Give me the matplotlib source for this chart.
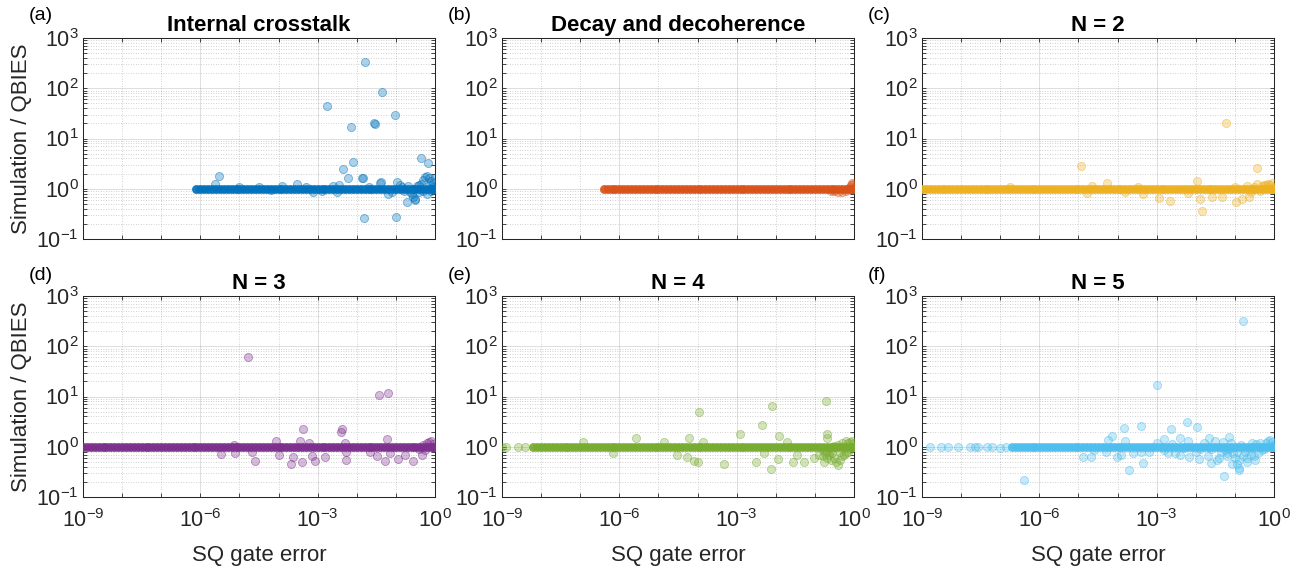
import numpy as np
import matplotlib
matplotlib.use("Agg")
import matplotlib.pyplot as plt
from matplotlib.ticker import FixedLocator, LogLocator, NullFormatter, LogFormatterSciNotation

plt.rcParams['font.family'] = ['Liberation Sans', 'DejaVu Sans']
plt.rcParams['mathtext.default'] = 'regular'

W, H = 1301, 569

titles = ['Internal crosstalk', 'Decay and decoherence', 'N = 2', 'N = 3', 'N = 4', 'N = 5']
tags = ['(a)', '(b)', '(c)', '(d)', '(e)', '(f)']
colors = [(0.000, 0.447, 0.741), (0.850, 0.325, 0.098), (0.929, 0.694, 0.125),
          (0.494, 0.184, 0.556), (0.466, 0.674, 0.188), (0.301, 0.745, 0.933)]

x_ticks = [1e-9, 1e-6, 1e-3, 1e0]
x_minor = [1e-8, 1e-7, 1e-5, 1e-4, 1e-2, 1e-1]

# log10(SQ gate error) positions of the dense run of points sitting at ratio ~1
band_grid = [-9.0, -8.9, -8.8, -8.7, -8.6, -8.5, -8.4, -8.3, -8.2, -8.1,
             -8.0, -7.9, -7.8, -7.7, -7.6, -7.5, -7.4, -7.3, -7.2, -7.1,
             -7.0, -6.9, -6.8, -6.7, -6.6, -6.5, -6.4, -6.3, -6.2, -6.1,
             -6.0, -5.9, -5.8, -5.7, -5.6, -5.5, -5.4, -5.3, -5.2, -5.1,
             -5.0, -4.9, -4.8, -4.7, -4.6, -4.5, -4.4, -4.3, -4.2, -4.1,
             -4.0, -3.9, -3.8, -3.7, -3.6, -3.5, -3.4, -3.3, -3.2, -3.1,
             -3.0, -2.9, -2.8, -2.7, -2.6, -2.5, -2.4, -2.3, -2.2, -2.1,
             -2.0, -1.9, -1.8, -1.7, -1.6, -1.5, -1.4, -1.3, -1.2, -1.1,
             -1.0, -0.9, -0.8, -0.7, -0.6, -0.5, -0.4, -0.3, -0.2, -0.1,
             -0.05, 0.0]
band_start = [-6.1, -6.4, -9.0, -9.0, -8.2, -6.75]
band_level = [1.0, 1.0, 1.0, 1.0, 1.0, 1.0]

# (a) internal crosstalk: log10(error), ratio
sa_x = [-1.80, -1.36, -2.77, -1.02, -1.57, -1.54, -2.15, -2.09, -2.34, -2.23,
        -1.86, -1.84, -1.82, -0.99, -0.36, -0.18, -5.52, -5.63, -1.38, -0.96,
        -2.45, -0.72, -0.51, -0.40, -1.19, -3.53, -3.92, -3.11, -2.51, -5.0,
        -4.5, -4.2, -3.3, -2.9, -2.6, -1.7, -1.4, -1.1, -0.85,
        -0.30, -0.25, -0.20, -0.15, -0.10, -0.05, 0.00, -0.12, -0.35, -0.45,
        -0.60, -0.55, -0.65, -0.50, -0.40, -0.30, -0.20, -0.10, -0.05, -0.80,
        -0.70, -0.90]
sa_y = [333, 83, 44, 29, 20, 19.5, 17, 3.35, 2.5, 1.65,
        1.65, 1.6, 0.265, 0.27, 4.1, 3.2, 1.8, 1.26, 1.38, 1.38,
        1.2, 0.55, 0.6, 1.18, 0.77, 1.22, 1.15, 0.87, 0.87, 1.1,
        1.08, 0.93, 1.1, 0.9, 1.12, 1.1, 1.3, 0.85, 1.1,
        1.5, 1.7, 1.8, 1.6, 1.45, 1.3, 1.6, 1.2, 1.25, 1.15,
        0.8, 0.7, 0.85, 0.62, 0.85, 0.9, 0.8, 0.9, 1.1, 0.9,
        1.15, 1.2]

# (b) decay and decoherence
sb_x = [-0.6, -0.5, -0.4, -0.3, -0.2, -0.15, -0.1, -0.07, -0.04, -0.02, 0.0, -0.05]
sb_y = [0.92, 0.9, 0.88, 0.86, 0.9, 0.98, 1.1, 1.2, 1.28, 1.22, 1.1, 1.0]

# (c) N = 2
sc_x = [-1.23, -4.94, -0.44, -1.97, -4.26, -1.85, -2.67, -2.93, -1.90, -1.59,
        -0.98, -0.81, -0.64, -1.32, -3.34, -4.79, -3.47, -4.66, -6.75, -2.19,
        -0.25, -0.43, -3.80, -0.30, -0.20, -0.15, -0.10, -0.05, 0.0, -0.50,
        -0.70, -1.00, -0.35, -0.60]
sc_y = [20, 2.87, 2.54, 1.44, 1.28, 0.355, 0.58, 0.65, 0.63, 0.67,
        0.54, 0.62, 0.67, 0.67, 0.77, 0.83, 1.1, 1.13, 1.07, 0.83,
        1.18, 1.22, 0.87, 1.15, 1.2, 1.25, 1.2, 1.3, 1.1, 1.1,
        1.15, 1.1, 0.9, 0.85]

# (d) N = 3
sd_x = [-4.77, -1.43, -1.19, -3.37, -2.37, -2.40, -1.23, -4.07, -3.45, -5.13,
        -3.21, -2.29, -4.60, -3.68, -3.41, -3.07, -2.81, -2.28, -1.29, -0.95,
        -0.57, -5.46, -5.12, -4.00, -3.62, -3.14, -1.49, -1.14, -0.76, -0.33,
        -4.69, -2.27, -1.66, -0.15, -0.10, -0.20, -0.05, -0.30, -0.40, -0.25]
sd_y = [62, 10.9, 11.9, 2.26, 2.26, 1.94, 1.43, 1.30, 1.30, 1.08,
        1.17, 1.17, 0.53, 0.45, 0.50, 0.53, 0.63, 0.54, 0.53, 0.56,
        0.53, 0.72, 0.74, 0.68, 0.63, 0.65, 0.66, 0.74, 0.68, 0.68,
        0.8, 0.8, 0.8, 1.26, 1.3, 1.2, 1.15, 1.1, 0.9, 0.85]

# (e) N = 4
se_x = [-9.0, -8.9, -8.6, -8.4,
        -0.71, -2.09, -3.97, -2.34, -2.92, -1.91, -5.58, -0.70, -0.70, -4.23,
        -1.71, -6.94, -4.87, -3.86, -4.53, -4.26, -4.10, -4.00, -3.33, -2.51,
        -2.12, -1.95, -1.56, -1.27, -1.01, -0.77, -0.40, -6.17, -1.45, -2.29,
        -0.9, -0.8, -0.7, -0.6, -0.5, -0.45, -0.35, -0.3, -0.25, -0.2,
        -0.15, -0.1, -0.05, 0.0, -0.1, -0.2, -0.3, -0.4, -0.5, -0.6,
        -0.7, -0.8, -0.55, -0.65, -0.75, -0.35, -0.05, -0.15]
se_y = [1.0, 1.0, 1.0, 1.0,
        8.0, 6.4, 4.9, 2.67, 1.77, 1.64, 1.52, 1.77, 1.52, 1.47,
        1.26, 1.22, 1.22, 1.22, 0.68, 0.63, 0.52, 0.50, 0.45, 0.50,
        0.365, 0.58, 0.49, 0.49, 0.59, 0.50, 0.43, 0.76, 0.68, 0.76,
        0.7, 0.65, 0.6, 0.55, 0.6, 0.5, 0.55, 0.65, 0.7, 0.75,
        0.8, 0.9, 1.0, 1.2, 1.25, 1.3, 1.2, 1.1, 1.05, 0.85,
        0.8, 0.85, 0.75, 0.7, 0.75, 0.8, 1.3, 1.2]

# (f) N = 5
sf_x = [-8.80, -8.51, -8.34, -8.07, -7.77, -7.64, -7.56, -7.35, -7.22, -7.01, -6.84,
        -0.78, -3.00, -2.23, -3.40, -1.96, -3.84, -2.63, -4.15, -4.24, -2.81,
        -2.40, -1.65, -1.16, -6.38, -1.28, -3.70, -3.34, -0.89, -0.89, -1.62,
        -1.08, -4.89, -4.69, -4.02, -1.93, -2.17, -1.21, -2.54, -0.49,
        -3.8, -3.6, -3.2, -3.0, -2.8, -2.6, -2.4, -2.2, -2.0, -1.8,
        -1.7, -1.5, -1.4, -1.3, -1.2, -1.1, -1.0, -0.9, -0.8, -0.7,
        -0.6, -0.5, -0.4, -0.3, -0.2, -0.15, -0.1, -0.05, 0.0, -0.25,
        -0.35, -0.45, -0.55, -0.65, -0.75, -0.85, -0.95, -1.05, -1.15, -1.25,
        -1.35, -1.6, -1.9, -2.3, -2.7, -3.4, -4.3, -4.6, -3.9, -1.45,
        -0.95, -0.7]
sf_y = [1.0, 1.0, 1.0, 1.0, 1.0, 1.0, 1.0, 1.0, 1.0, 0.93, 1.0,
        318, 17, 3.15, 2.63, 2.5, 2.4, 2.22, 1.66, 1.38, 1.45,
        1.48, 1.49, 1.58, 0.22, 0.265, 0.35, 0.47, 0.37, 0.34, 0.47,
        0.45, 0.63, 0.63, 0.63, 0.56, 0.63, 0.74, 0.74, 0.55,
        1.3, 0.75, 0.8, 1.2, 0.85, 1.15, 0.7, 1.3, 0.8, 1.2,
        0.65, 1.3, 0.6, 1.25, 0.65, 1.2, 0.6, 0.55, 0.65, 0.6,
        0.7, 0.65, 0.75, 0.85, 1.2, 1.3, 1.35, 1.25, 1.1, 0.9,
        1.2, 1.15, 1.2, 0.9, 0.8, 1.1, 0.8, 0.75, 0.9, 0.85,
        0.8, 0.9, 0.9, 0.95, 0.75, 0.8, 0.8, 0.85, 0.7, 0.55,
        0.45, 0.5]

scatter_x = [sa_x, sb_x, sc_x, sd_x, se_x, sf_x]
scatter_y = [sa_y, sb_y, sc_y, sd_y, se_y, sf_y]

fig = plt.figure(figsize=(W / 100, H / 100), dpi=100)

col_left = [83, 502, 922]
row_top = [38, 296]
ax_w, ax_h = 352, 201
tag_x = [29, 448, 868]
tag_y = [16, 275]

ink = '#262626'
msize = 34
for i in range(6):
    r, c = divmod(i, 3)
    left = col_left[c] / W
    bottom = 1 - (row_top[r] + ax_h) / H
    ax = fig.add_axes([left, bottom, ax_w / W, ax_h / H])
    ax.set_xscale('log')
    ax.set_yscale('log')
    ax.set_xlim(1e-9, 1e0)
    ax.set_ylim(1e-1, 1e3)

    col = colors[i]
    bx = np.array([v for v in band_grid if v >= band_start[i]])
    ax.scatter(10.0 ** bx, np.full(bx.size, band_level[i]), s=msize,
               facecolors=[(*col, 0.92)], edgecolors=[(*col, 0.92)], linewidths=0.5, zorder=3)
    ax.scatter(10.0 ** np.array(scatter_x[i]), scatter_y[i], s=msize,
               facecolors=[(*col, 0.32)], edgecolors=[(*col, 0.5)], linewidths=0.6, zorder=4)

    ax.xaxis.set_major_locator(FixedLocator(x_ticks))
    ax.xaxis.set_minor_locator(FixedLocator(x_minor))
    ax.xaxis.set_minor_formatter(NullFormatter())
    ax.yaxis.set_major_locator(LogLocator(base=10, numticks=10))
    ax.yaxis.set_minor_locator(LogLocator(base=10, subs=np.arange(2, 10), numticks=20))
    ax.yaxis.set_minor_formatter(NullFormatter())
    ax.yaxis.set_major_formatter(LogFormatterSciNotation())
    if r == 0:
        ax.xaxis.set_major_formatter(NullFormatter())
    else:
        ax.xaxis.set_major_formatter(LogFormatterSciNotation())

    ax.grid(True, which='major', color=(0.15, 0.15, 0.15), alpha=0.15, lw=0.7, ls='-')
    ax.grid(True, which='minor', color=(0.15, 0.15, 0.15), alpha=0.28, lw=0.6, ls=(0, (1, 2)))
    ax.set_axisbelow(True)

    ax.tick_params(which='both', direction='in', top=True, right=True,
                   length=2.6, width=0.6, color=ink, labelcolor=ink, labelsize=15.5, pad=3)
    ax.tick_params(axis='x', which='major', pad=9)
    for sp in ax.spines.values():
        sp.set_color(ink)
        sp.set_linewidth(0.75)

    ax.set_title(titles[i], fontsize=16, fontweight='bold', pad=5)
    if c == 0:
        ax.set_ylabel('Simulation / QBIES', fontsize=16, color=ink)
        ax.yaxis.set_label_coords(-0.145, 0.5)
    if r == 1:
        ax.set_xlabel('SQ gate error', fontsize=16, color=ink)
        ax.xaxis.set_label_coords(0.5, -0.24)

    fig.text(tag_x[c] / W, 1 - tag_y[r] / H, tags[i], fontsize=14, ha='left', va='center', color='black')

fig.savefig('out.png', dpi=100)
